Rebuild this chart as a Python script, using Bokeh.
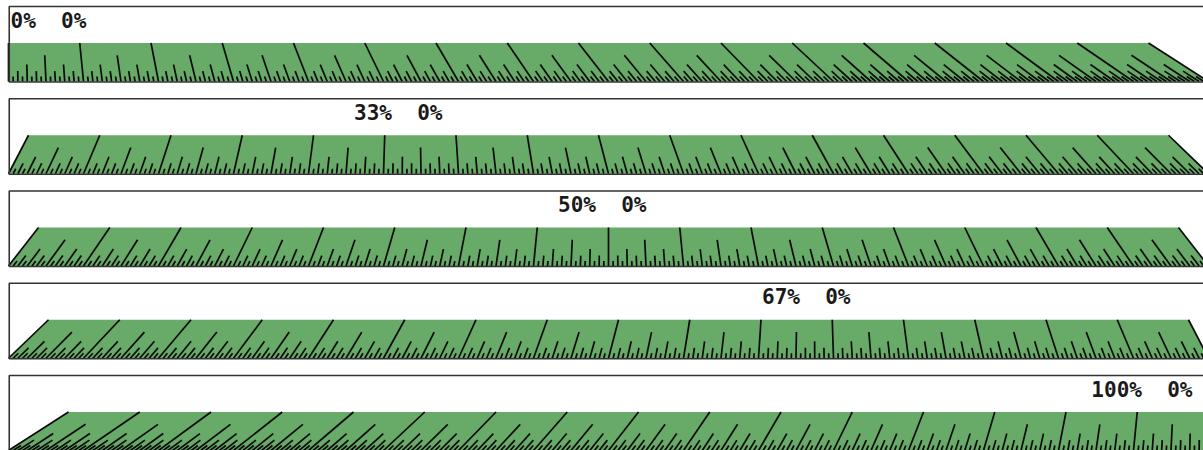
import numpy as np
from bokeh.plotting import figure
from bokeh.models import Range1d, ColumnDataSource
from bokeh.core.properties import value
from bokeh.embed import file_html
from bokeh.resources import INLINE

# ---- data ----
view_pct = [0, 33, 50, 67, 100]          # horizontal viewpoint, percent of ruler width
view_frac = [0, 1/3, 1/2, 2/3, 1]
second_pct = [0, 0, 0, 0, 0]             # second readout
ruler_units = 16                         # major divisions on the ruler
subdivisions = 16                        # ticks per major division
tick_levels = [16, 8, 4, 2, 1]           # divisibility of tick index
tick_fracs = [1.0, 0.68, 0.44, 0.27, 0.13]  # tick length as fraction of ruler depth

# ---- layout (picture pixels) ----
X0 = 8.0
RULER_W = 1200.0
PANEL_TOP0 = 6.0
PANEL_STEP = 92.25
GREEN_OFF = 36.5
PANEL_H = 75.0
FAR_SCALE = 0.95
W, H = 1203, 450
FS = 21
ADV = 0.602 * FS

p = figure(width=W, height=H, output_backend="svg", toolbar_location=None,
           x_range=Range1d(0, W), y_range=Range1d(H, 0),
           x_axis_type=None, y_axis_type=None, min_border=0)
p.grid.visible = False
p.outline_line_color = None
p.background_fill_color = "white"
p.border_fill_color = "white"

box_l, box_r, box_t, box_b = [], [], [], []
gxs, gys = [], []
x0s, y0s, x1s, y1s = [], [], [], []
lx, ly, lt = [], [], []

n_ticks = ruler_units * subdivisions
for i, (pct, f, sec) in enumerate(zip(view_pct, view_frac, second_pct)):
    top = PANEL_TOP0 + i * PANEL_STEP
    B = top + PANEL_H
    T = top + GREEN_OFF
    vx = X0 + f * RULER_W
    box_l.append(X0 + 0.75); box_r.append(X0 + RULER_W + 10)
    box_t.append(top); box_b.append(B + 0.5)
    gxs.append([X0, X0 + RULER_W, vx + (X0 + RULER_W - vx) * FAR_SCALE, vx + (X0 - vx) * FAR_SCALE])
    gys.append([B, B, T, T])
    for k in range(n_ticks + 1):
        xb = X0 + k * RULER_W / n_ticks
        d = tick_fracs[-1]
        for lev, fr in zip(tick_levels, tick_fracs):
            if k % lev == 0:
                d = fr
                break
        sc = 1 - (1 - FAR_SCALE) * d
        x0s.append(xb); y0s.append(B)
        x1s.append(vx + (xb - vx) * sc); y1s.append(B - (B - T) * d)
    first = f"{pct}%"
    second = f"{sec}%"
    n_chars = len(first) + 2 + len(second)
    tw = n_chars * ADV
    left = 1224 * f - 54.5
    left = min(max(left, 10), 1192 - tw)
    base = top + 14.0
    lx.append(left); ly.append(base); lt.append(first)
    lx.append(left + (len(first) + 2) * ADV); ly.append(base); lt.append(second)

p.quad(left=box_l, right=box_r, top=box_t, bottom=box_b, fill_color="white", line_color=None)
p.patches(xs=gxs, ys=gys, fill_color="#68aa68", line_color=None)
p.segment(x0=x0s, y0=y0s, x1=x1s, y1=y1s, line_color="#0a0a0a", line_width=1.7)
p.quad(left=box_l, right=box_r, top=box_t, bottom=box_b, fill_color=None,
       line_color="#333333", line_width=1.6)
p.text(x=lx, y=ly, text=lt, text_font=value("DejaVu Sans Mono"), text_font_size=f"{FS}px",
       text_font_style="bold", text_align="left", text_baseline="alphabetic",
       text_color="#1a1a1a")

open("out.html", "w").write(file_html(p, INLINE))
